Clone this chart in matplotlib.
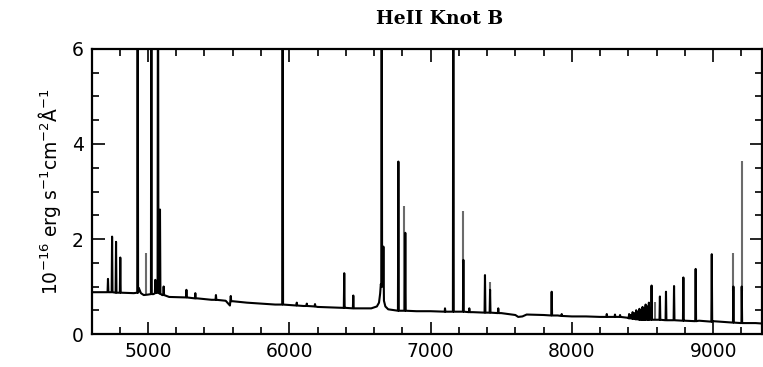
import numpy as np
import matplotlib
matplotlib.use("Agg")
import matplotlib.pyplot as plt
from matplotlib.ticker import MultipleLocator

# continuum (incl. broad H-alpha wing)
cont_wave = [4600, 4700, 4800, 4900, 4935, 4950, 4970, 5000, 5040, 5060, 5100,
             5150, 5250, 5350, 5450, 5550, 5580, 5600, 5700, 5800, 5900, 6000,
             6100, 6200, 6300, 6400, 6500, 6580, 6620, 6635, 6643, 6648, 6662,
             6670, 6680, 6700, 6800, 6900, 7000, 7100, 7200, 7300, 7400, 7500,
             7600, 7620, 7650, 7680, 7800, 7900, 8000, 8100, 8200, 8300, 8400,
             8450, 8500, 8600, 8700, 8800, 8900, 9000, 9100, 9200, 9300, 9350]
cont_flux = [0.88, 0.88, 0.87, 0.86, 0.97, 0.86, 0.82, 0.83, 0.84, 0.88, 0.82,
             0.78, 0.77, 0.75, 0.72, 0.70, 0.60, 0.69, 0.66, 0.64, 0.62, 0.61,
             0.59, 0.57, 0.56, 0.55, 0.54, 0.54, 0.58, 0.66, 0.85, 1.05, 1.00,
             0.70, 0.58, 0.52, 0.49, 0.48, 0.48, 0.47, 0.47, 0.46, 0.45, 0.44,
             0.40, 0.36, 0.37, 0.41, 0.40, 0.39, 0.37, 0.37, 0.36, 0.36, 0.34,
             0.31, 0.30, 0.30, 0.29, 0.28, 0.28, 0.27, 0.25, 0.24, 0.23, 0.22]

# emission lines (black): centre, peak, base
line_wave = [4717, 4746, 4774, 4804, 4927, 5024, 5052, 5071, 5085, 5111,
             5272, 5335, 5481, 5586, 5953, 6053, 6124, 6182, 6389, 6453,
             6654, 6666, 6772, 6821, 7102, 7161, 7232, 7274, 7385, 7421,
             7479, 7857, 7928, 8247, 8305, 8341,
             8405, 8418, 8430, 8442, 8455, 8466, 8478, 8490, 8500, 8512, 8522, 8535, 8545,
             8564, 8623, 8666, 8723, 8789, 8876, 8990, 9143, 9202]
line_peak = [1.16, 2.05, 1.94, 1.61, 10.0, 10.0, 1.14, 10.0, 2.62, 1.00,
             0.93, 0.86, 0.82, 0.80, 10.0, 0.66, 0.64, 0.63, 1.28, 0.81,
             10.0, 1.84, 3.63, 2.13, 0.54, 10.0, 1.56, 0.54, 1.24, 0.93,
             0.54, 0.89, 0.42, 0.42, 0.41, 0.40,
             0.42, 0.40, 0.46, 0.44, 0.50, 0.47, 0.53, 0.50, 0.57, 0.55, 0.62, 0.58, 0.66,
             1.02, 0.79, 0.89, 1.01, 1.19, 1.37, 1.68, 1.00, 1.00]
line_base = [0.88, 0.88, 0.87, 0.87, 0.87, 0.84, 0.86, 0.87, 0.85, 0.82,
             0.77, 0.75, 0.72, 0.69, 0.62, 0.60, 0.59, 0.58, 0.55, 0.54,
             1.00, 1.00, 0.49, 0.49, 0.47, 0.47, 0.47, 0.46, 0.45, 0.45,
             0.44, 0.39, 0.38, 0.36, 0.36, 0.36,
             0.33, 0.33, 0.32, 0.32, 0.31, 0.31, 0.30, 0.30, 0.30, 0.30, 0.30, 0.30, 0.30,
             0.30, 0.30, 0.29, 0.29, 0.28, 0.27, 0.26, 0.24, 0.23]

# fainter (grey) line tops
grey_wave = [4988, 6812, 7232, 7421, 8588, 9143, 9202]
grey_peak = [1.71, 2.69, 2.58, 1.10, 0.68, 1.71, 3.64]
grey_base = [0.83, 0.49, 1.50, 0.90, 0.30, 0.90, 0.90]

# build the spectrum polyline
hw = 3.0
pts = list(zip(cont_wave, cont_flux))
for w, p, b in zip(line_wave, line_peak, line_base):
    pts += [(w - hw, b), (w, p), (w + hw, b)]
pts.sort(key=lambda t: t[0])
wave = np.array([t[0] for t in pts])
flux = np.array([t[1] for t in pts])

fig = plt.figure(figsize=(7.63, 3.67), dpi=100)
ax = fig.add_axes([0.1206, 0.0899, 0.878, 0.7766])

ax.vlines(grey_wave, grey_base, grey_peak, color="0.42", lw=1.5, zorder=1)
ax.plot(wave, flux, color="black", lw=1.5, zorder=2)

ax.set_xlim(4604, 9345)
ax.set_ylim(0, 6)
ax.xaxis.set_major_locator(MultipleLocator(1000))
ax.xaxis.set_minor_locator(MultipleLocator(200))
ax.yaxis.set_major_locator(MultipleLocator(2))
ax.yaxis.set_minor_locator(MultipleLocator(0.5))
ax.tick_params(which="both", direction="in", top=True, right=True,
               width=1.2, labelsize=13.5)
ax.tick_params(which="major", length=9, pad=6)
ax.tick_params(which="minor", length=5)
for s in ax.spines.values():
    s.set_linewidth(1.6)

ax.set_ylabel(r"10$^{-16}$ erg s$^{-1}$cm$^{-2}$Å$^{-1}$", fontsize=13.5, labelpad=6)
fig.text(0.5767, 0.948, "HeII Knot B", ha="center", va="center",
         family="DejaVu Serif", fontweight="bold", fontsize=13.5)

plt.savefig("out.png", dpi=100)
